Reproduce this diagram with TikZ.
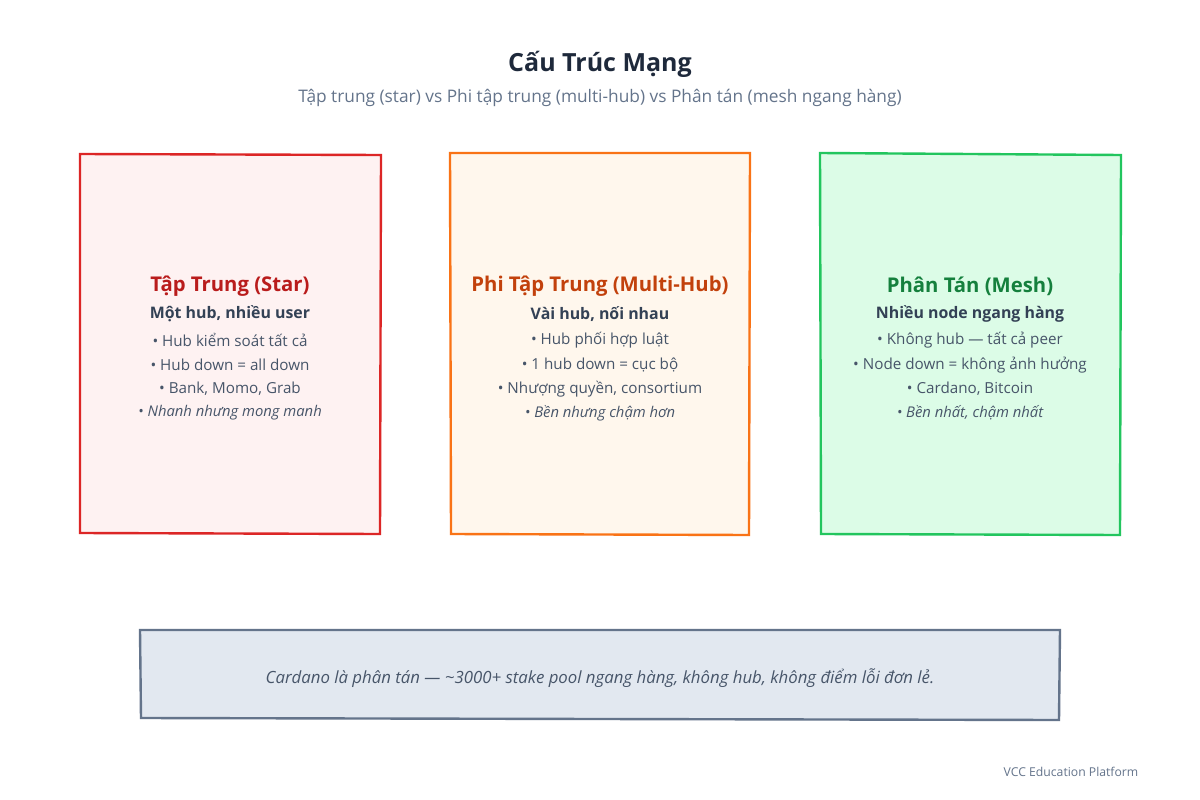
\documentclass[tikz,border=0pt]{standalone}
\usepackage{fontspec}
\setmainfont{Open Sans}
\definecolor{titlec}{HTML}{1E293B}
\definecolor{subc}{HTML}{64748B}
\definecolor{bodyc}{HTML}{475569}
\definecolor{headc}{HTML}{334155}
\definecolor{redS}{HTML}{DC2626}\definecolor{redF}{HTML}{FEF2F2}\definecolor{redT}{HTML}{B91C1C}
\definecolor{orS}{HTML}{F97316}\definecolor{orF}{HTML}{FFF7ED}\definecolor{orT}{HTML}{C2410C}
\definecolor{grS}{HTML}{22C55E}\definecolor{grF}{HTML}{DCFCE7}\definecolor{grT}{HTML}{15803D}
\definecolor{slS}{HTML}{64748B}\definecolor{slF}{HTML}{E2E8F0}
\begin{document}
\begin{tikzpicture}[x=1pt,y=-1pt,
  panel/.style={line width=2.4pt},
  ttl/.style={font=\fontsize{20.3}{24}\selectfont\bfseries},
  hd/.style={font=\fontsize{15.9}{19}\selectfont\bfseries,text=headc},
  bl/.style={font=\fontsize{15.2}{18}\selectfont,text=bodyc},
  it/.style={font=\fontsize{14.8}{17}\selectfont\itshape,text=bodyc}]
\useasboundingbox (0,0) rectangle (1200,800);
\fill[white] (0,0) rectangle (1200,800);
\node[font=\fontsize{25}{29}\selectfont\bfseries,text=titlec] (title) at (600,64) {Cấu Trúc Mạng};
\node[font=\fontsize{17.3}{20}\selectfont,text=subc] (sub) at (600,98) {Tập trung (star) vs Phi tập trung (multi-hub) vs Phân tán (mesh ngang hàng)};
% panels
\draw[panel,draw=redS,fill=redF] (80,154) -- (381,155) -- (380,534) -- (80,533) -- cycle;
\draw[panel,draw=orS,fill=orF] (450,153) -- (750,153) -- (749,535) -- (451,534) -- cycle;
\draw[panel,draw=grS,fill=grF] (820,153) -- (1121,155) -- (1120,535) -- (821,534) -- cycle;
\draw[panel,draw=slS,fill=slF] (140,630) -- (1060,630) -- (1059,720) -- (141,718) -- cycle;
% red
\node[ttl,text=redT] (r0) at (230,286) {Tập Trung (Star)};
\node[hd] (r1) at (230,314) {Một hub, nhiều user};
\node[bl] (r2) at (230,340) {• Hub kiểm soát tất cả};
\node[bl] (r3) at (230,365) {• Hub down = all down};
\node[bl] (r4) at (230,389) {• Bank, Momo, Grab};
\node[it] (r5) at (230,413) {• Nhanh nhưng mong manh};
% orange
\node[ttl,text=orT] (o0) at (600,286) {Phi Tập Trung (Multi-Hub)};
\node[hd] (o1) at (600,314) {Vài hub, nối nhau};
\node[bl] (o2) at (600,340) {• Hub phối hợp luật};
\node[bl] (o3) at (600,365) {• 1 hub down = cục bộ};
\node[bl] (o4) at (600,389) {• Nhượng quyền, consortium};
\node[it] (o5) at (600,413) {• Bền nhưng chậm hơn};
% green
\node[ttl,text=grT] (g0) at (970,286) {Phân Tán (Mesh)};
\node[hd] (g1) at (970,314) {Nhiều node ngang hàng};
\node[bl] (g2) at (970,340) {• Không hub — tất cả peer};
\node[bl] (g3) at (970,365) {• Node down = không ảnh hưởng};
\node[bl] (g4) at (970,389) {• Cardano, Bitcoin};
\node[it] (g5) at (970,413) {• Bền nhất, chậm nhất};
% bottom
\node[font=\fontsize{16.8}{19}\selectfont\itshape,text=bodyc] (note) at (600,678) {Cardano là phân tán — \textasciitilde3000+ stake pool ngang hàng, không hub, không điểm lỗi đơn lẻ.};
\node[font=\fontsize{12.2}{14}\selectfont,text=subc] (foot) at (1071,772) {VCC Education Platform};
\end{tikzpicture}
\end{document}
